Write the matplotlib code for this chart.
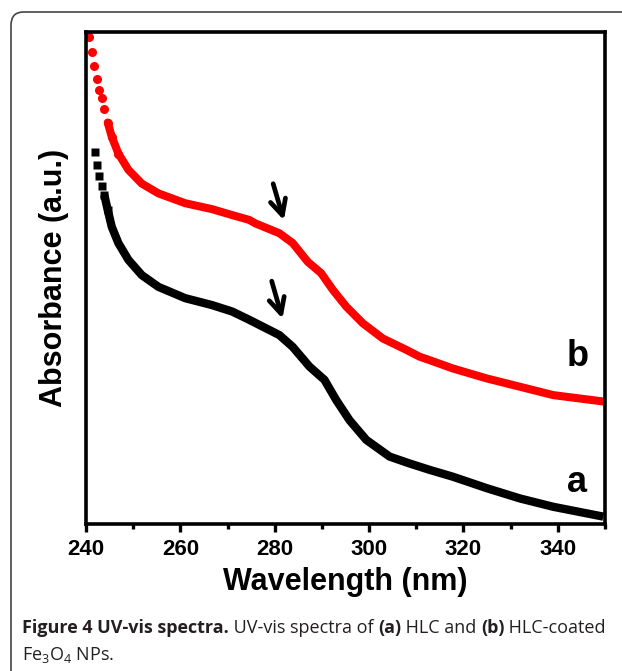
import matplotlib
matplotlib.use('Agg')
import matplotlib.pyplot as plt
from matplotlib.patches import FancyBboxPatch

plt.rcParams['font.family'] = ['Liberation Sans', 'DejaVu Sans']
plt.rcParams['mathtext.fontset'] = 'custom'
plt.rcParams['mathtext.rm'] = 'Open Sans'

## (b) HLC-coated Fe3O4 NPs, red circles
wl_b = [240.64, 241.34, 241.76, 242.27, 242.76, 243.33, 243.88, 244.61, 245.46,
        246.86, 248.98, 251.81, 255.35, 261.02, 266.69, 270.94, 274.61, 275.89,
        280.98, 283.81, 286.99, 289.82, 292.31, 295.15, 298.67, 302.92, 307.89,
        310.72, 312.84, 317.79, 324.88, 331.95, 339.02, 349.64]
abs_b = [0.990, 0.959, 0.931, 0.904, 0.882, 0.865, 0.843, 0.816, 0.787,
         0.753, 0.720, 0.692, 0.672, 0.652, 0.640, 0.628, 0.618, 0.611,
         0.591, 0.571, 0.533, 0.510, 0.476, 0.442, 0.408, 0.377, 0.354,
         0.340, 0.333, 0.316, 0.296, 0.279, 0.262, 0.249]

## (a) HLC, black squares
wl_a = [241.91, 242.34, 242.76, 243.33, 243.88, 244.61, 245.46, 246.86, 248.98,
        251.81, 255.35, 261.02, 266.69, 270.94, 274.61, 280.98, 283.81, 287.36,
        290.54, 293.03, 295.85, 299.40, 304.35, 308.59, 312.84, 317.79, 324.88,
        331.95, 339.02, 349.64]
abs_a = [0.757, 0.730, 0.707, 0.687, 0.669, 0.638, 0.604, 0.571, 0.537,
         0.506, 0.482, 0.459, 0.445, 0.432, 0.415, 0.384, 0.360, 0.320,
         0.293, 0.252, 0.211, 0.171, 0.137, 0.123, 0.110, 0.096, 0.073,
         0.052, 0.035, 0.015]

x_ticks = [240, 260, 280, 300, 320, 340]

fig = plt.figure(figsize=(6.22, 6.71), dpi=100)

## outer rounded frame of the figure panel
frame = FancyBboxPatch((11 / 622, -0.05), 1.2, 1.05 - 12 / 671,
                       boxstyle='round,pad=0,rounding_size=0.02',
                       transform=fig.transFigure, fill=False,
                       edgecolor='#444444', linewidth=1.2)
fig.patches.append(frame)

ax = fig.add_axes([86 / 622, 1 - 524 / 671, 519 / 622, 492 / 671])

## dense part of each scan drawn as a thick line, sparse start as markers
ax.plot(wl_b[7:], abs_b[7:], '-', color='#ff0000', lw=5.8,
        solid_capstyle='round', solid_joinstyle='round')
ax.plot(wl_b, abs_b, 'o', color='#ff0000', ms=6.5, mec='none',
        markevery=slice(0, 10))
ax.plot(wl_a[4:], abs_a[4:], '-', color='black', lw=6.0,
        solid_capstyle='butt', solid_joinstyle='round')
ax.plot(wl_a, abs_a, 's', color='black', ms=5.6, mec='none',
        markevery=slice(0, 6))

## arrows marking the shoulder
arrow = dict(arrowstyle='->', color='black', lw=3.4, mutation_scale=28)
ax.annotate('', xy=(282.1, 0.612), xytext=(279.5, 0.697), arrowprops=arrow)
ax.annotate('', xy=(281.8, 0.412), xytext=(279.2, 0.499), arrowprops=arrow)

ax.text(344.1, 0.085, 'a', fontsize=26, fontweight='bold', ha='center', va='center')
ax.text(344.1, 0.340, 'b', fontsize=26, fontweight='bold', ha='center', va='center')

ax.set_xlim(240, 350)
ax.set_ylim(0, 1)
ax.set_xticks(x_ticks)
ax.set_xticks(range(250, 351, 20), minor=True)
ax.set_yticks([])
ax.tick_params(axis='x', which='major', direction='out', length=6, width=2.4,
               labelsize=16, pad=5)
ax.tick_params(axis='x', which='minor', direction='out', length=3.5, width=2.4)
for lab in ax.get_xticklabels():
    lab.set_fontweight('bold')
for sp in ax.spines.values():
    sp.set_linewidth(2.6)

ax.set_xlabel('Wavelength (nm)', fontsize=22, fontweight='bold', labelpad=5)
ax.set_ylabel('Absorbance (a.u.)', fontsize=22, fontweight='bold', labelpad=12)

## caption with mixed bold / regular pieces
fig.canvas.draw()
renderer = fig.canvas.get_renderer()
cap_font = ['Open Sans', 'DejaVu Sans']
cap_size = 13.0
line1 = [('Figure 4 UV-vis spectra.', 'bold'), (' UV-vis spectra of ', 'normal'),
         ('(a)', 'bold'), (' HLC and ', 'normal'), ('(b)', 'bold'),
         (' HLC-coated', 'normal')]
x0 = 22
for txt, w in line1:
    t = fig.text(x0 / 622, 1 - 628 / 671, txt, family=cap_font, fontsize=cap_size,
                 fontweight=w, va='center', ha='left', color='#231f20')
    x0 += t.get_window_extent(renderer).width
fig.text(22 / 622, 1 - 655 / 671, 'Fe$_3$O$_4$ NPs.', family=cap_font,
         fontsize=cap_size, va='center', ha='left', color='#231f20')

fig.savefig('out.png', dpi=100)
